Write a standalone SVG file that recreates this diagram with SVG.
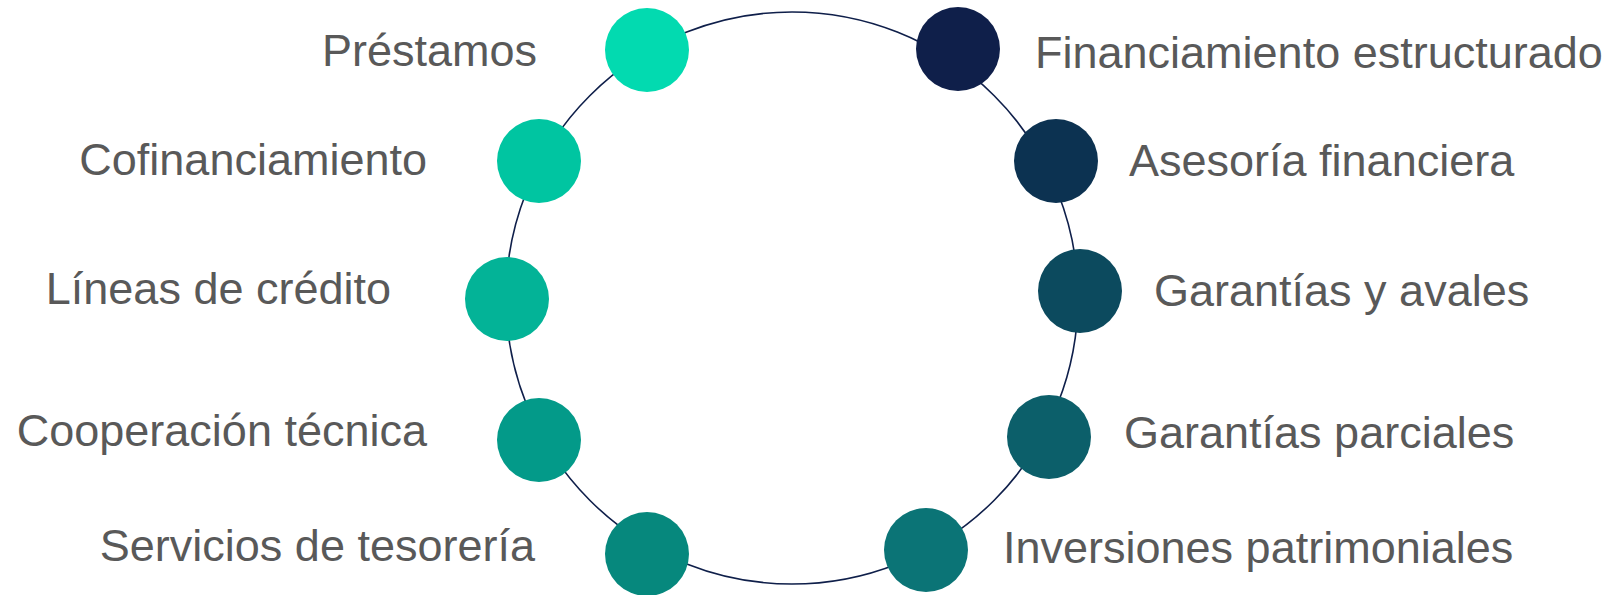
<svg xmlns="http://www.w3.org/2000/svg" width="1613" height="595" viewBox="0 0 1613 595">
  <style>
    .lbl { font-family: "Liberation Sans", Arial, sans-serif; font-size: 45px; fill: #595959; }
    .end { text-anchor: end; }
    .ring { fill: none; stroke: #0F1F4A; stroke-width: 1.6; }
  </style>
  <rect width="1613" height="595" fill="#FFFFFF"/>
  <g id="connectors">
    <circle class="ring" cx="792" cy="298" r="286"/>
  </g>
  <g id="node-prestamos">
    <circle cx="647" cy="50" r="42" fill="#02DAB0"/>
    <text class="lbl end" x="537" y="66">Préstamos</text>
  </g>
  <g id="node-cofinanciamiento">
    <circle cx="539" cy="161" r="42" fill="#00C5A1"/>
    <text class="lbl end" x="427" y="175">Cofinanciamiento</text>
  </g>
  <g id="node-lineas">
    <circle cx="507" cy="299" r="42" fill="#03B397"/>
    <text class="lbl end" x="391" y="304">Líneas de crédito</text>
  </g>
  <g id="node-cooperacion">
    <circle cx="539" cy="440" r="42" fill="#039A89"/>
    <text class="lbl end" x="427" y="446">Cooperación técnica</text>
  </g>
  <g id="node-servicios">
    <circle cx="647" cy="554" r="42" fill="#06887D"/>
    <text class="lbl end" x="535" y="561">Servicios de tesorería</text>
  </g>
  <g id="node-financiamiento">
    <circle cx="958" cy="49" r="42" fill="#0F1F4A"/>
    <text class="lbl" x="1035" y="68">Financiamiento estructurado</text>
  </g>
  <g id="node-asesoria">
    <circle cx="1056" cy="161" r="42" fill="#0C3251"/>
    <text class="lbl" x="1129" y="176">Asesoría financiera</text>
  </g>
  <g id="node-garantias-avales">
    <circle cx="1080" cy="291" r="42" fill="#0C4A5E"/>
    <text class="lbl" x="1154" y="306">Garantías y avales</text>
  </g>
  <g id="node-garantias-parciales">
    <circle cx="1049" cy="437" r="42" fill="#0C5F6A"/>
    <text class="lbl" x="1124" y="448">Garantías parciales</text>
  </g>
  <g id="node-inversiones">
    <circle cx="926" cy="550" r="42" fill="#0B7476"/>
    <text class="lbl" x="1003" y="563">Inversiones patrimoniales</text>
  </g>
</svg>
